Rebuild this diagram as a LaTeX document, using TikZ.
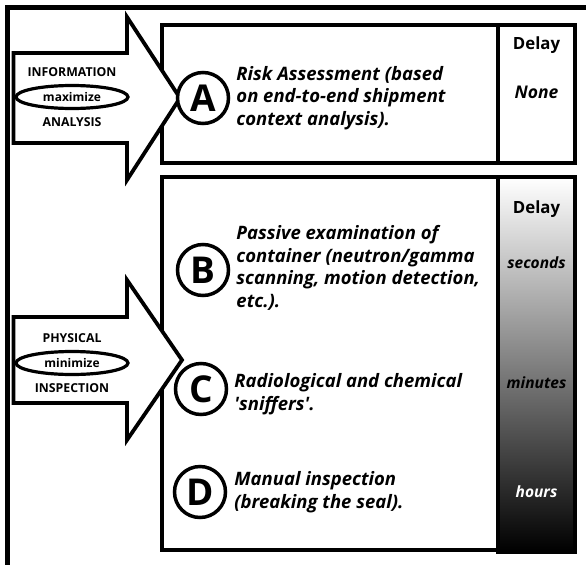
\documentclass[tikz,border=0pt]{standalone}
\usepackage{fontspec}
\setmainfont{Open Sans}
\usetikzlibrary{shapes.geometric, positioning}

\begin{document}
\begin{tikzpicture}[x=1pt, y=-1pt]
	\tikzstyle{panel} = [rectangle, draw=black, line width=4.5pt, inner sep=0pt]
	\tikzstyle{badge} = [circle, draw=black, line width=3.5pt, fill=white, minimum size=51pt, inner sep=0pt, font=\fontsize{37}{37}\selectfont\bfseries]
	\tikzstyle{desc} = [align=left, inner sep=0pt, font=\fontsize{18.5}{22.5}\selectfont\bfseries\itshape]
	\tikzstyle{bigarrow} = [draw=black, fill=white, line width=3.8pt, miter limit=20]
	\tikzstyle{oval} = [ellipse, draw=black, line width=3.2pt, minimum width=112pt, minimum height=23pt, inner sep=0pt, font=\fontsize{12}{12}\selectfont\bfseries]
	\tikzstyle{caps} = [inner sep=0pt, font=\fontsize{12.3}{12.3}\selectfont\bfseries]
	\tikzstyle{delay} = [inner sep=0pt, font=\fontsize{16.8}{16.8}\selectfont\bfseries]
	\tikzstyle{delayit} = [inner sep=0pt, font=\fontsize{15.5}{15.5}\selectfont\bfseries\itshape]

	\useasboundingbox (0,0) rectangle (586,565);

	% outer frame
	\draw [line width=4.5pt] (586,7.5) -- (7.5,7.5) -- (7.5,565);

	% boxes
	\node (boxA) [panel, minimum width=336pt, minimum height=138pt] at (330,94) {};
	\node (delayA) [panel, minimum width=77pt, minimum height=138pt] at (536.5,94) {};
	\node (boxB) [panel, minimum width=336pt, minimum height=373pt] at (330,363.5) {};
	\node (delayB) [panel, minimum width=77pt, minimum height=375pt, top color=white, middle color=black!42, bottom color=black] at (536.5,364.5) {};

	% arrows
	\draw [bigarrow] (13.5,53) -- (127,53) -- (127,17) -- (180,98) -- (127,180) -- (127,143) -- (13.5,143) -- cycle;
	\draw [bigarrow] (13.5,317) -- (127,317) -- (127,280) -- (182,360) -- (127,440) -- (127,403) -- (13.5,403) -- cycle;

	\node (maxi) [oval] at (72,97) {maximize};
	\node (info) [caps, above=7pt of maxi] {INFORMATION};
	\node (anal) [caps, below=7pt of maxi] {ANALYSIS};
	\node (mini) [oval] at (72,363) {minimize};
	\node (phys) [caps, above=7pt of mini] {PHYSICAL};
	\node (insp) [caps, below=7pt of mini] {INSPECTION};

	% steps
	\node (circA) [badge] at (203,98) {A};
	\node (circB) [badge] at (203,270) {B};
	\node (circC) [badge] at (201,389) {C};
	\node (circD) [badge] at (200,492) {D};

	\node (descA) [desc, right=6pt of circA] {Risk Assessment (based\\on end-to-end shipment\\context analysis).};
	\node (descB) [desc, right=6pt of circB, yshift=2pt] {Passive examination of\\container (neutron/gamma\\scanning, motion detection,\\etc.).};
	\node (descC) [desc, right=6pt of circC, yshift=-5pt] {Radiological and chemical\\\textquotesingle sniffers\textquotesingle.};
	\node (descD) [desc, right=7pt of circD] {Manual inspection\\(breaking the seal).};

	% delay column
	\node (dlyA) [delay] at (536.5,45) {Delay};
	\node (none) [delayit, font=\fontsize{17.5}{17.5}\selectfont\bfseries\itshape] at (536.5,92) {None};
	\node (dlyB) [delay] at (536.5,209) {Delay};
	\node (secs) [delayit] at (536.5,263) {seconds};
	\node (mins) [delayit] at (536.5,383) {minutes};
	\node (hrs) [delayit, text=white] at (536.5,492) {hours};

\end{tikzpicture}
\end{document}
